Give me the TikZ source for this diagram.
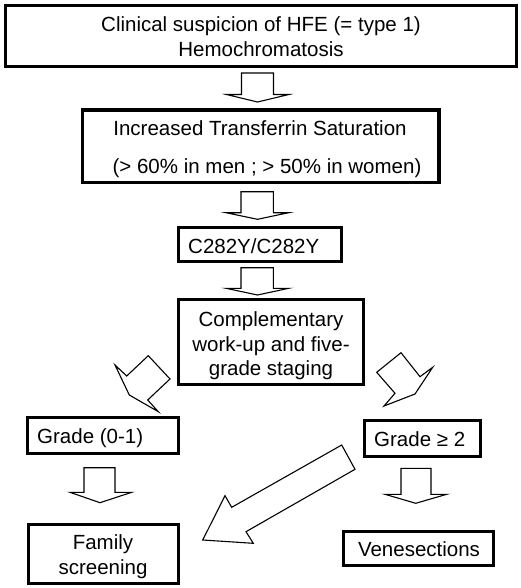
\documentclass[tikz,border=0pt]{standalone}
\usepackage{fontspec}
\setmainfont{Liberation Sans}
\begin{document}
\begin{tikzpicture}[x=1pt,y=-1pt,
  box/.style={draw=black, line width=3.6pt, inner sep=0pt},
  txt/.style={inner sep=0pt, font=\fontsize{20.5}{25}\selectfont},
  blockarrow/.style={draw=black, line width=1.1pt, fill=white, line join=miter}]
\useasboundingbox (0,0) rectangle (520,588);
% boxes
\node[box, minimum width=511pt, minimum height=61pt] (b1) at (261,36) {};
\node[box, minimum width=356.5pt, minimum height=72.5pt] (b2) at (260.75,146.25) {};
\node[box, minimum width=163pt, minimum height=34pt] (b3) at (260,244.5) {};
\node[box, minimum width=185pt, minimum height=85pt] (b4) at (271,342) {};
\node[box, minimum width=151pt, minimum height=36pt] (b5) at (103,435.5) {};
\node[box, minimum width=116pt, minimum height=36pt] (b6) at (422.5,438.5) {};
\node[box, minimum width=150pt, minimum height=59pt] (b7) at (103.5,554) {};
\node[box, minimum width=150pt, minimum height=34pt] (b8) at (418.5,548.5) {};
% texts
\node[txt, anchor=base] (t1a) at (261,32) {Clinical suspicion of HFE (= type 1)};
\node[txt, anchor=base] (t1b) at (261,57) {Hemochromatosis};
\node[txt, anchor=base] (t2a) at (260,136) {Increased Transferrin Saturation};
\node[txt, anchor=base] (t2b) at (267,173) {(> 60\% in men ; > 50\% in women)};
\node[txt, anchor=base west] (t3) at (188,253.3) {C282Y/C282Y};
\node[txt, anchor=base] (t4a) at (271,326) {Complementary};
\node[txt, anchor=base] (t4b) at (271,351) {work-up and five-};
\node[txt, anchor=base] (t4c) at (271,375) {grade staging};
\node[txt, anchor=base west] (t5) at (37,443.3) {Grade (0-1)};
\node[txt, anchor=base west] (t6) at (374,446.7) {Grade ≥ 2};
\node[txt, anchor=base] (t7a) at (103,549) {Family};
\node[txt, anchor=base] (t7b) at (103,574) {screening};
\node[txt, anchor=base] (t8) at (419,556.7) {Venesections};
% vertical block arrows
\draw[blockarrow] (241.5,73) -- (273.5,73) -- (273.5,94.5) -- (289,94.5) -- (257.5,102) -- (226.5,94.5) -- (241.5,94.5) -- cycle;
\draw[blockarrow] (241,191.7) -- (273.3,191.7) -- (273.3,212.7) -- (288.7,212.7) -- (257.5,219.3) -- (226,212.7) -- (241,212.7) -- cycle;
\draw[blockarrow] (241,267.7) -- (273.3,267.7) -- (273.3,288.3) -- (288.7,288.3) -- (257.5,295) -- (226,288.3) -- (241,288.3) -- cycle;
\draw[blockarrow] (84,467.7) -- (115,467.7) -- (115,492.3) -- (131.7,492.3) -- (100,502.7) -- (70,492.3) -- (84,492.3) -- cycle;
\draw[blockarrow] (401,468.3) -- (431,468.3) -- (431,494.3) -- (446.7,494.3) -- (415.7,503.3) -- (385,494.3) -- (401,494.3) -- cycle;
% diagonal block arrows
\draw[blockarrow] (148.3,355.7) -- (170,379) -- (147.7,400) -- (158.3,411.7) -- (129.3,395) -- (115,365) -- (126.7,376) -- cycle;
\draw[blockarrow] (401,352.7) -- (420,376.7) -- (432.7,367.3) -- (415,394) -- (384,406) -- (395,393.3) -- (376.7,372.3) -- cycle;
\draw[blockarrow] (341.7,445) -- (355,469.3) -- (246,531.7) -- (253.3,543.3) -- (202.7,540) -- (225,495.7) -- (231.7,507.3) -- cycle;
\end{tikzpicture}
\end{document}
